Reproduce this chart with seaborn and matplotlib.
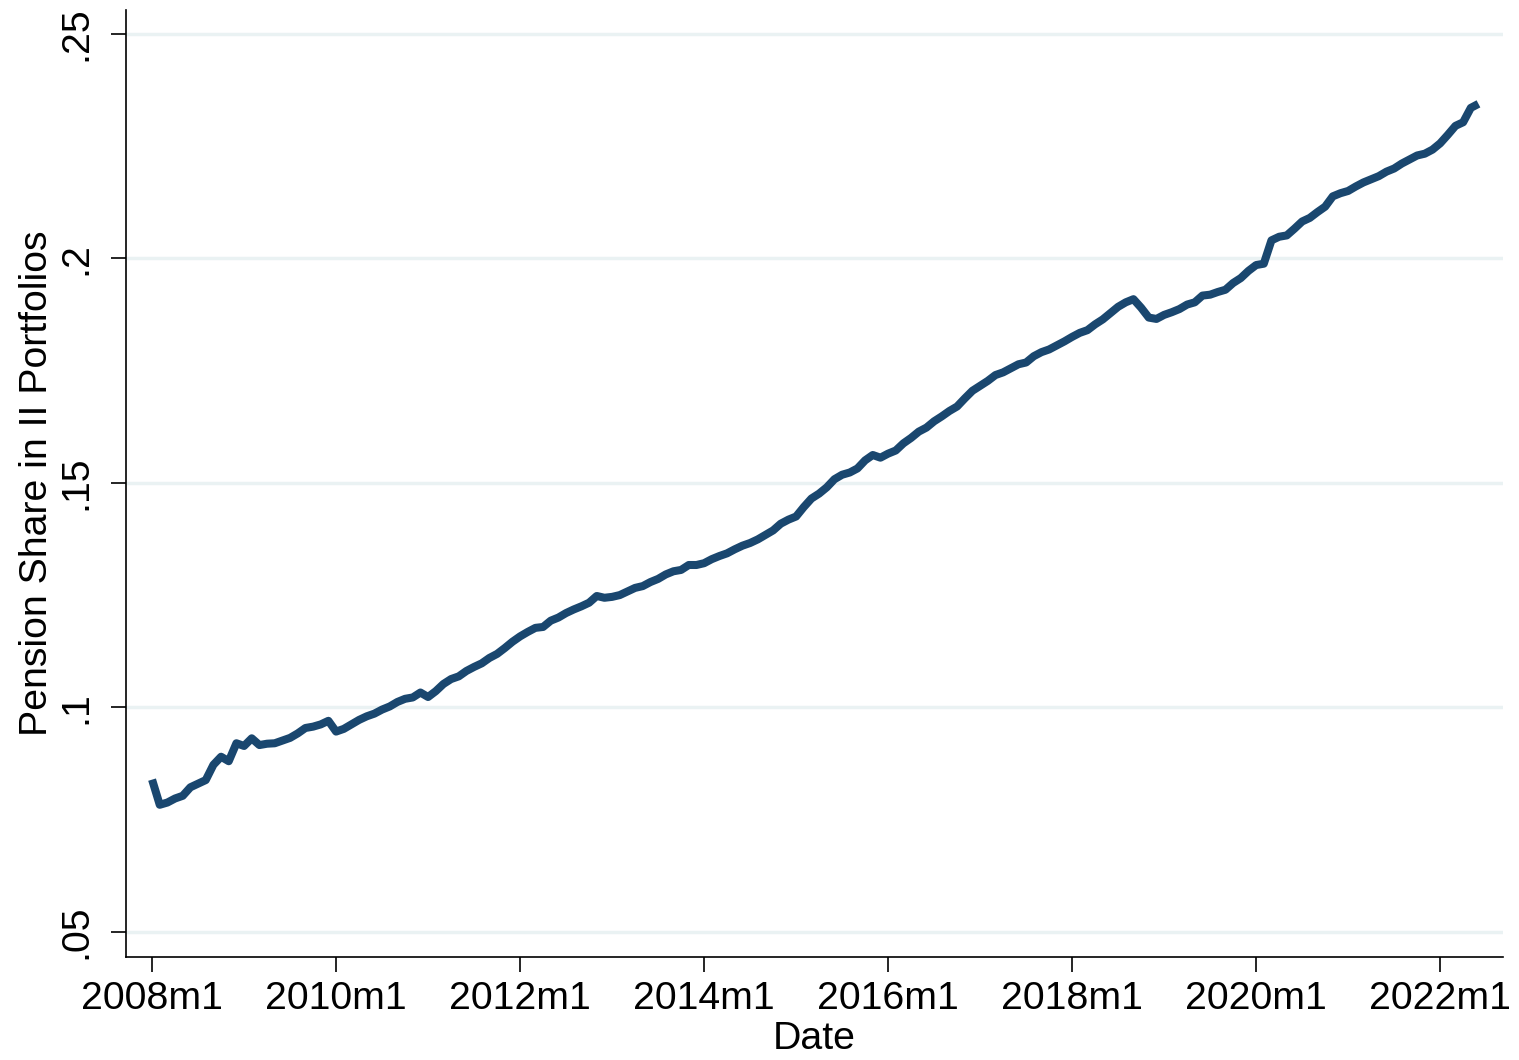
import numpy as np
import pandas as pd
import matplotlib
matplotlib.use("Agg")
import matplotlib.pyplot as plt
import seaborn as sns

# monthly pension share, 2008m1 .. 2022m6
share_2008 = [0.0839, 0.0783, 0.0788, 0.0797, 0.0803, 0.0822, 0.0830, 0.0838, 0.0872, 0.0890, 0.0880, 0.0920]
share_2009 = [0.0914, 0.0931, 0.0916, 0.0919, 0.0920, 0.0926, 0.0932, 0.0942, 0.0954, 0.0957, 0.0962, 0.0970]
share_2010 = [0.0946, 0.0952, 0.0962, 0.0972, 0.0980, 0.0986, 0.0995, 0.1002, 0.1012, 0.1019, 0.1022, 0.1033]
share_2011 = [0.1023, 0.1036, 0.1052, 0.1063, 0.1069, 0.1081, 0.1090, 0.1098, 0.1110, 0.1119, 0.1132, 0.1146]
share_2012 = [0.1158, 0.1168, 0.1177, 0.1179, 0.1193, 0.1200, 0.1210, 0.1218, 0.1225, 0.1233, 0.1248, 0.1244]
share_2013 = [0.1246, 0.1250, 0.1258, 0.1266, 0.1270, 0.1279, 0.1286, 0.1296, 0.1303, 0.1306, 0.1317, 0.1317]
share_2014 = [0.1321, 0.1330, 0.1337, 0.1343, 0.1352, 0.1360, 0.1366, 0.1374, 0.1384, 0.1394, 0.1409, 0.1418]
share_2015 = [0.1425, 0.1446, 0.1465, 0.1476, 0.1490, 0.1508, 0.1518, 0.1523, 0.1532, 0.1550, 0.1562, 0.1556]
share_2016 = [0.1565, 0.1572, 0.1588, 0.1600, 0.1614, 0.1623, 0.1637, 0.1648, 0.1660, 0.1670, 0.1688, 0.1705]
share_2017 = [0.1716, 0.1727, 0.1740, 0.1746, 0.1755, 0.1764, 0.1768, 0.1782, 0.1791, 0.1797, 0.1806, 0.1815]
share_2018 = [0.1825, 0.1834, 0.1840, 0.1853, 0.1864, 0.1878, 0.1892, 0.1902, 0.1909, 0.1890, 0.1868, 0.1865]
share_2019 = [0.1874, 0.1880, 0.1887, 0.1897, 0.1902, 0.1917, 0.1919, 0.1925, 0.1930, 0.1945, 0.1956, 0.1972]
share_2020 = [0.1985, 0.1988, 0.2040, 0.2048, 0.2051, 0.2066, 0.2082, 0.2090, 0.2103, 0.2115, 0.2138, 0.2145]
share_2021 = [0.2150, 0.2160, 0.2169, 0.2176, 0.2183, 0.2193, 0.2200, 0.2211, 0.2220, 0.2229, 0.2233, 0.2242]
share_2022 = [0.2256, 0.2275, 0.2295, 0.2303, 0.2335, 0.2344]

x_tick_pos = [0, 24, 48, 72, 96, 120, 144, 168]
x_tick_labels = ["2008m1", "2010m1", "2012m1", "2014m1", "2016m1", "2018m1", "2020m1", "2022m1"]
y_ticks = [0.05, 0.10, 0.15, 0.20, 0.25]
y_tick_labels = [".05", ".1", ".15", ".2", ".25"]

share = (share_2008 + share_2009 + share_2010 + share_2011 + share_2012 + share_2013 + share_2014
         + share_2015 + share_2016 + share_2017 + share_2018 + share_2019 + share_2020 + share_2021 + share_2022)
df = pd.DataFrame({"month": np.arange(len(share)), "share": share})

sns.set_style("white")
plt.rcParams["font.family"] = ["Liberation Sans", "DejaVu Sans"]
plt.rcParams["text.color"] = "black"
plt.rcParams["axes.labelcolor"] = "black"
plt.rcParams["xtick.color"] = "black"
plt.rcParams["ytick.color"] = "black"

fig = plt.figure(figsize=(15.19, 10.6), dpi=100)
ax = fig.add_axes([126 / 1519, 103 / 1060, (1503 - 126) / 1519, (957 - 10) / 1060])

for y in y_ticks:
    ax.axhline(y, color="#EAF2F3", lw=2.5, zorder=0)

sns.lineplot(data=df, x="month", y="share", color="#1A476F", lw=5.8, ax=ax,
             solid_capstyle="butt", solid_joinstyle="round")

ax.set_xlim(-3.4, 176.2)
ax.set_ylim(0.0444, 0.2553)
ax.set_xticks(x_tick_pos)
ax.set_xticklabels(x_tick_labels)
ax.set_yticks(y_ticks)
ax.set_yticklabels(y_tick_labels, rotation=90, va="center")

ax.tick_params(axis="both", which="major", length=11, width=1.2, colors="black",
               labelsize=28.3, direction="out", left=True, bottom=True)
ax.tick_params(axis="x", pad=6)
ax.tick_params(axis="y", pad=12)

for side in ["top", "right"]:
    ax.spines[side].set_visible(False)
for side in ["left", "bottom"]:
    ax.spines[side].set_color("black")
    ax.spines[side].set_linewidth(1.2)

ax.set_xlabel("Date", fontsize=28.3, labelpad=3, color="black")
ax.set_ylabel("Pension Share in II Portfolios", fontsize=28.3, labelpad=2, color="black")

fig.savefig("out.png", dpi=100, facecolor="white")
